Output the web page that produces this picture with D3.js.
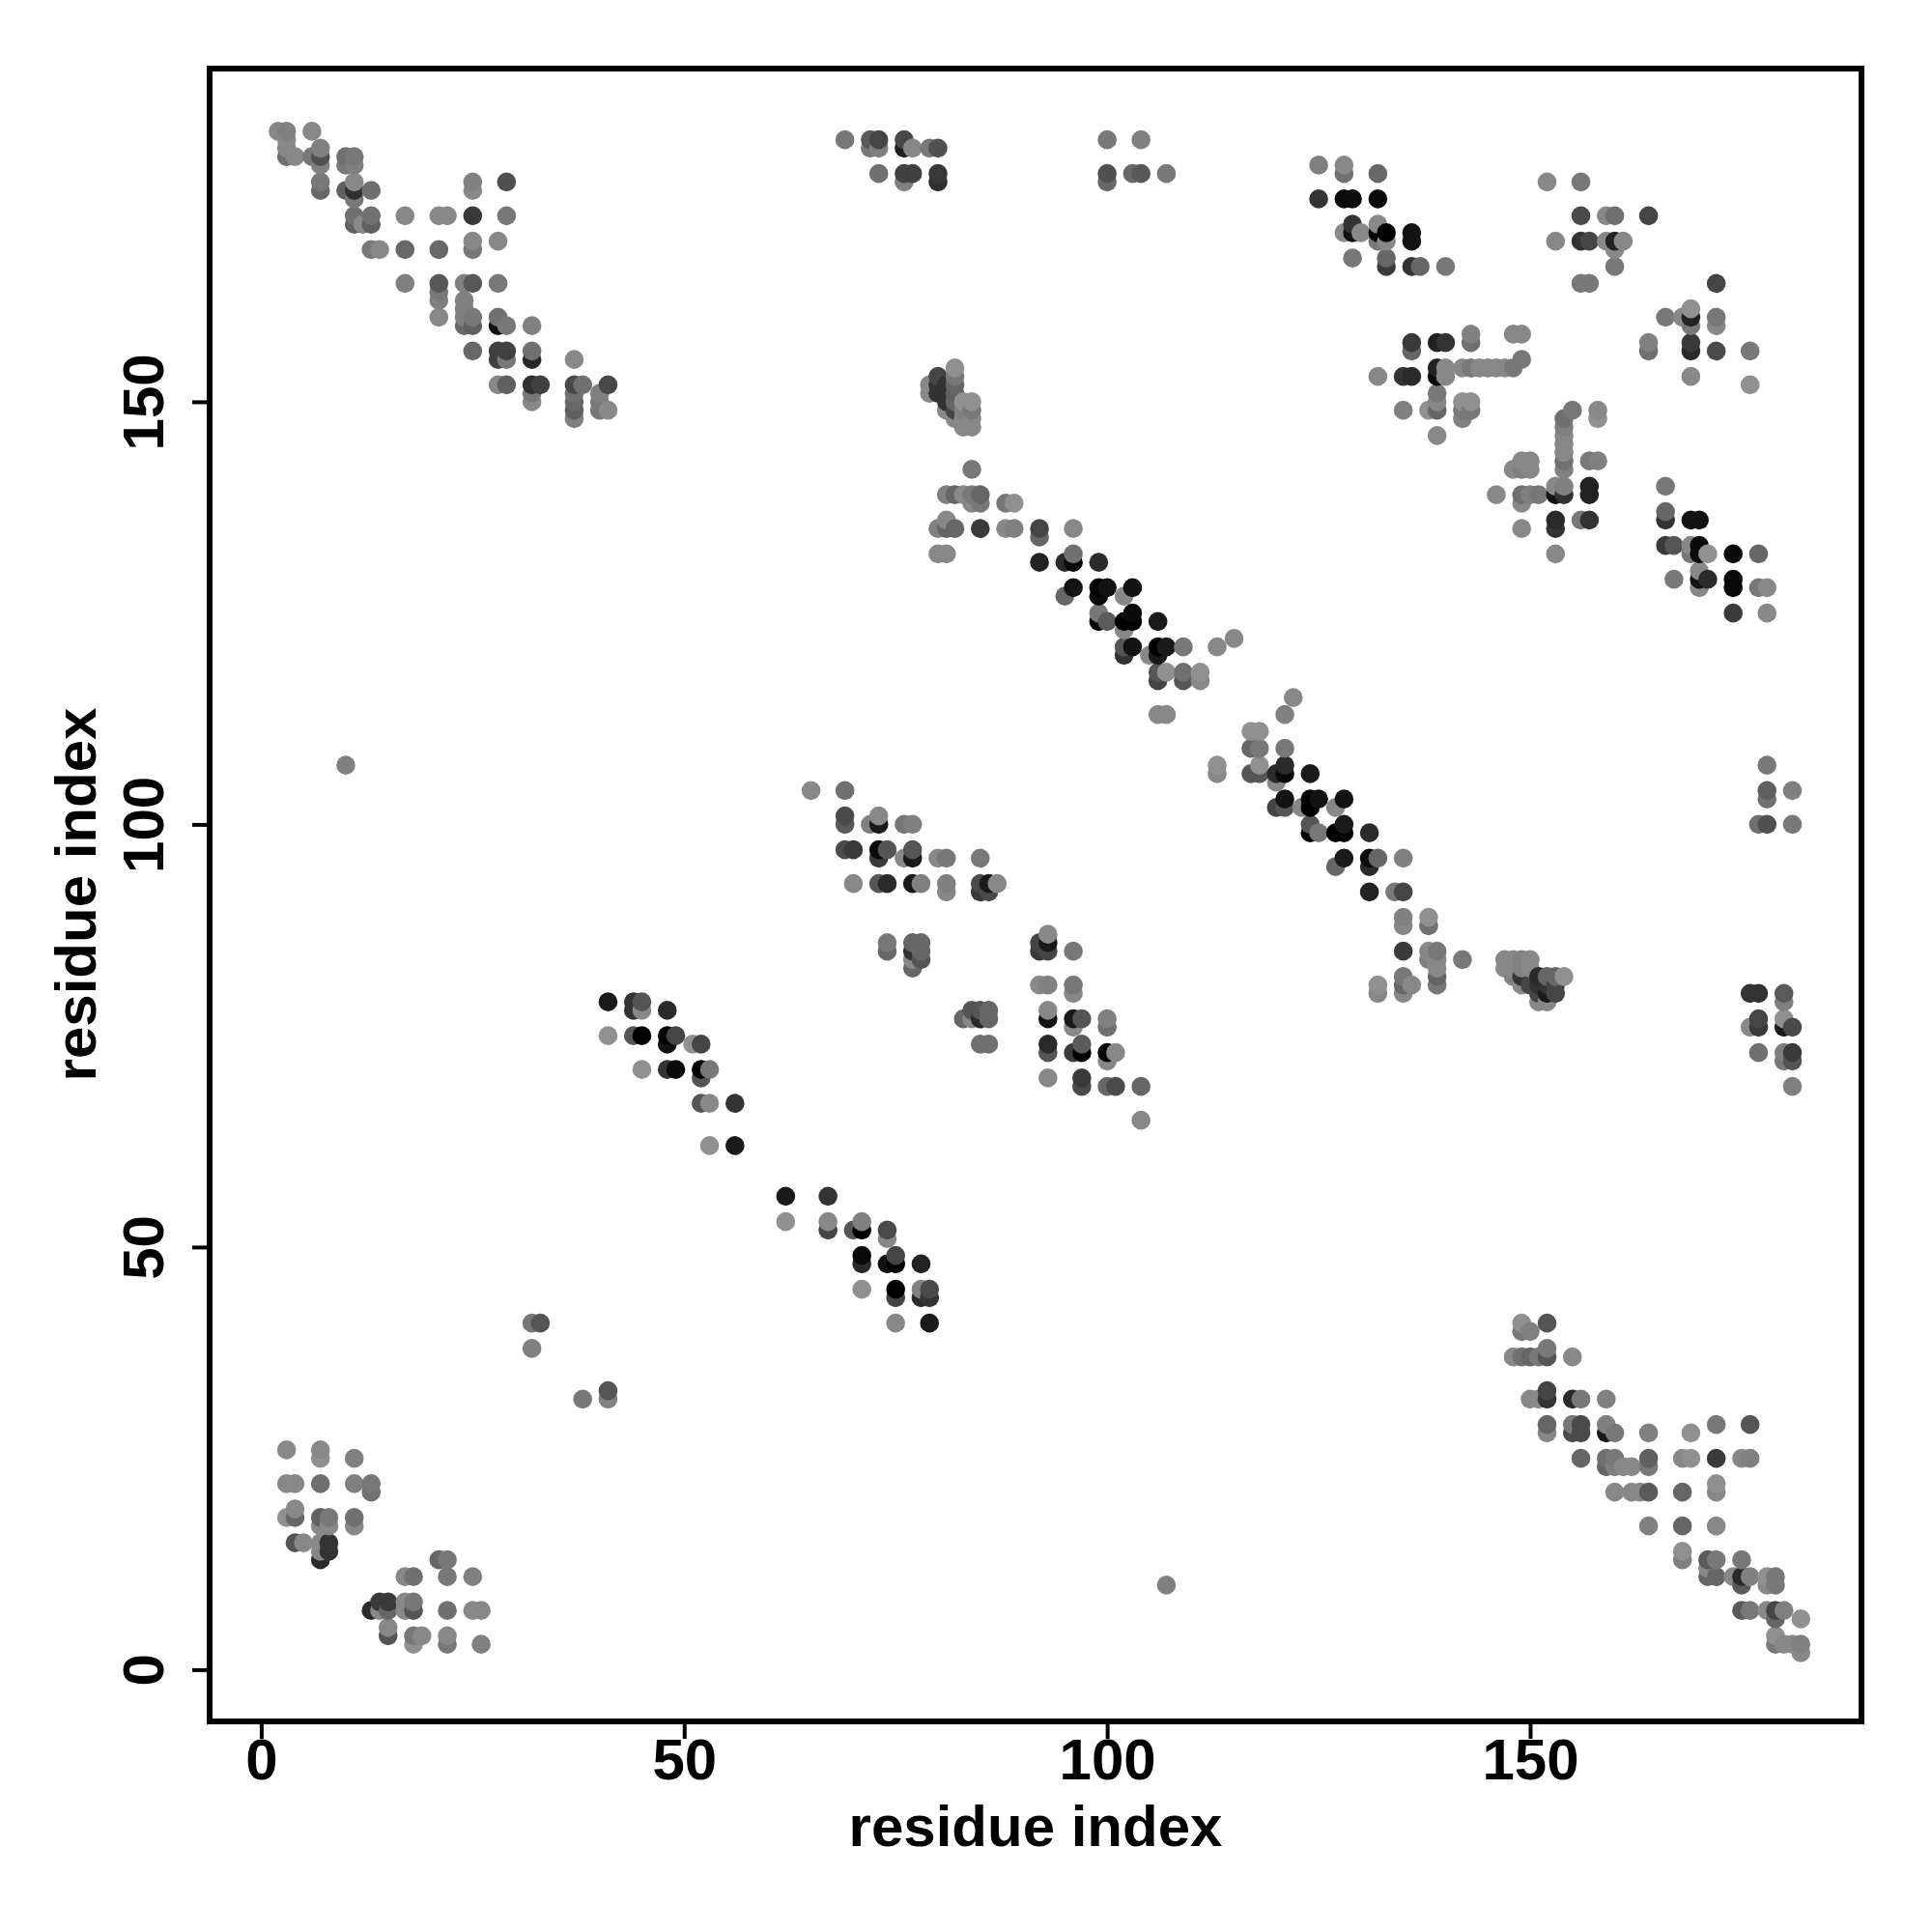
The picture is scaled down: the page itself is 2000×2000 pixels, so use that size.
<!DOCTYPE html>
<html><head><meta charset="utf-8">
<script src="https://cdn.jsdelivr.net/npm/d3@7"></script>
<style>html,body{margin:0;background:#fff}svg{display:block}</style></head>
<body><svg id="c" width="2000" height="2000"></svg>
<script>
// each contact: [residue x, residue y, shade 0 (black) .. 9 (lightest grey)]
const blockNW=[[2,182,8.5],[3,182,8],[6,182,8.5],[3,181,8.5],[3,180,8.5],[7,180,8],[3,179,7],[4,179,8.5],[6,179,7.5],[7,179,5],[10,179,7],[11,179,7.5],[7,178,8],[10,178,7.5],[11,178,8],[7,176,7.5],[11,176,8.5],[25,176,8],[29,176,5],[7,175,6.5],[10,175,6],[11,175,3],[13,175,7],[25,175,8.5],[11,174,7.5],[11,172,7],[13,172,7],[17,172,8.5],[21,172,8.5],[22,172,8.5],[25,172,3.5],[29,172,7.5],[11,171,6],[12,171,8.5],[13,171,6],[25,169,8.5],[28,169,8.5],[13,168,7.5],[14,168,8.5],[17,168,6.5],[21,168,6.5],[25,168,7.5],[17,164,8],[21,164,5.5],[24,164,8],[25,164,5.5],[28,164,7.5],[21,163,7.5],[21,162,8],[24,162,8],[24,161,8],[21,160,8.5],[24,160,8],[25,160,7.5],[28,160,7],[24,159,6.5],[25,159,6],[28,159,1],[29,159,7.5],[32,159,8],[25,156,6.5],[28,156,4],[29,156,4],[32,156,7],[28,155,4],[29,155,7.5],[32,155,2.5],[37,155,8.5],[28,152,8.5],[29,152,6],[32,152,3],[33,152,4],[37,152,4.5],[38,152,7],[41,152,4.5],[32,151,7.5],[37,151,7],[40,151,8],[32,150,8.5],[37,150,6.5],[40,150,7.5],[37,149,6],[40,149,7.5],[41,149,8.5],[37,148,8]];
const blockN=[[69,181,7.5],[72,181,5.5],[73,181,4.3],[76,181,4.5],[100,181,7.5],[104,181,8],[72,180,7.5],[73,180,8],[76,180,2],[77,180,8.5],[79,180,7.5],[80,180,5],[73,177,7],[76,177,4],[77,177,4],[80,177,3.5],[100,177,5],[103,177,6.5],[104,177,5.5],[107,177,7.5],[76,176,8],[80,176,3],[100,176,6.5]];
const blockNE=[[125,178,8],[128,178,8.5],[128,177,7],[132,177,6.5],[152,176,8.5],[156,176,7.5],[125,174,3.2],[128,174,.6],[129,174,.8],[132,174,.6],[156,172,4.6],[159,172,8.5],[160,172,7],[164,172,4.3],[129,171,3.2],[132,171,8.5],[128,170,8.5],[129,170,1.1],[130,170,8.5],[132,170,0],[133,170,0],[136,170,1.1],[132,169,7.5],[133,169,8.5],[136,169,1.1],[153,169,8.5],[156,169,3.2],[157,169,4.3],[159,169,8.5],[160,169,2.1],[161,169,8.5],[160,168,8.5],[129,167,7.5],[133,167,6.4],[133,166,3.6],[136,166,3.2],[137,166,6.4],[140,166,7.5],[160,166,7.5],[156,164,7.5],[157,164,7.5],[172,164,4.3],[169,161,9],[166,160,7.5],[168,160,8.5],[169,160,2.1],[172,160,7.5],[169,159,7.5],[172,159,8.5],[143,158,8],[148,158,8.5],[149,158,8.5],[136,157,3.6],[139,157,2.1],[140,157,3.2],[143,157,7],[164,157,8],[169,157,3.6],[136,156,6.4],[164,156,7],[169,156,2.6],[172,156,4.6],[176,156,7.5],[149,155,7.5],[139,154,2.1],[140,154,8.5],[142,154,8.5],[143,154,7.5],[144,154,8.5],[145,154,8.5],[146,154,8.5],[147,154,8.5],[148,154,7.5],[132,153,8.5],[135,153,3.2],[136,153,2.6],[139,153,.6],[140,153,8.5],[169,153,8.5],[176,152,9]];
const blockE=[[139,151,7.5],[139,150,8.5],[142,150,9],[143,150,9],[135,149,8],[138,149,9],[139,149,6.4],[142,149,7.5],[143,149,7.5],[155,149,7.5],[158,149,8.5],[142,148,8],[154,148,7],[158,148,9],[154,147,8],[139,146,8.5],[154,146,8.5],[154,145,8.5],[154,144,8.5],[149,143,8.5],[150,143,8.5],[154,143,7],[157,143,7.5],[158,143,8],[148,142,8.5],[149,142,8],[150,142,8.5],[154,142,8],[153,140,8.5],[154,140,8],[157,140,2.1],[166,140,7.5],[146,139,8.5],[149,139,7],[150,139,8],[151,139,7.5],[153,139,1.1],[154,139,3.2],[157,139,2.1],[149,138,8.5],[166,137,6.4],[153,136,2.6],[156,136,7.5],[157,136,3.2],[166,136,3.2],[169,136,1.1],[170,136,1.1],[149,135,8.5],[153,135,3.2],[166,133,3.6],[167,133,5.3],[169,133,8.5],[170,133,.6],[153,132,8.5],[169,132,7.5],[170,132,.6],[171,132,9],[174,132,.6],[177,132,6.4],[170,130,8.5],[167,129,7.5],[170,129,1.1],[171,129,2.6],[174,129,.6],[170,128,8.5],[174,128,.6],[177,128,7.5],[178,128,8.5],[174,125,3.6],[178,125,8.5]];
const blockC=[[79,152,8.5],[79,151,8.5],[80,153,4.3],[80,152,3.2],[80,151,3.2],[81,152,3.2],[81,151,3.2],[81,150,3.2],[81,149,8.5],[82,154,9],[82,153,7.5],[82,152,6.4],[82,151,6],[82,150,6.4],[82,149,4.3],[82,148,8.5],[83,150,9],[83,149,8],[83,148,8.5],[83,147,8.5],[84,150,9],[84,149,7.5],[84,148,8.5],[84,147,8.5],[84,142,7.5],[81,139,8],[82,139,6.4],[83,139,8.5],[84,139,7.5],[85,139,6.4],[84,138,8.5],[85,138,7.5],[88,138,7.5],[89,138,9],[81,136,8.5],[80,135,8],[81,135,6.4],[82,135,6.4],[85,135,3.6],[88,135,8.5],[89,135,8],[92,135,4.3],[96,135,8.5],[92,134,6.4],[80,132,8.5],[81,132,8.5],[96,132,7],[92,131,2.1],[95,131,2.6],[96,131,.6],[99,131,2.6],[96,128,1.1],[99,128,0],[100,128,1.1],[103,128,1.1],[95,127,6.4],[99,127,.6],[102,127,8.5],[99,125,7.5],[103,125,.6],[99,124,.6],[100,124,5.6],[102,124,0],[103,124,0],[106,124,1.6],[102,123,8.5],[115,122,8.5],[102,121,5.3],[103,121,1.1],[106,121,0],[107,121,1.6],[109,121,7.5],[113,121,8.5],[102,120,3.2],[105,120,8.5],[106,120,1.6],[106,118,5.3],[107,118,9],[109,118,7],[111,118,9],[106,117,4.3],[109,117,5.3],[111,117,8.5],[106,113,8.5],[107,113,8.5]];
const blockD=[[122,115,8.5],[121,113,8],[117,111,9],[118,111,9],[117,109,6.4],[118,109,7.5],[121,109,7.5],[113,107,9],[118,107,9],[121,107,2.6],[113,106,8.5],[117,106,5.3],[118,106,5.3],[120,106,2.6],[121,106,.6],[124,106,1.6],[120,105,8.5],[121,103,1.1],[124,103,0],[125,103,1.1],[128,103,1.1],[120,102,4.3],[121,102,5.3],[123,102,8.5],[124,102,0],[127,102,8.5],[124,100,5.3],[128,100,1.6],[124,99,0],[125,99,7.5],[127,99,0],[128,99,0],[131,99,2.6],[128,96,1.6],[131,96,.6],[132,96,6.4],[135,96,8],[127,95,6.4],[131,95,2.6],[131,92,2.1],[134,92,7.5],[135,92,4.3],[135,89,8],[138,89,9],[135,88,8.5],[138,88,7],[135,85,3.6],[138,85,8.5],[139,85,7.5],[138,84,8],[139,84,8.5],[142,84,7.5],[139,83,8.5],[135,82,7.5],[139,82,6.4],[132,81,9],[135,81,6.4],[136,81,8.5],[139,81,7.5],[132,80,8.5],[135,80,8.5]];
const blockK=[[147,84,8.5],[148,84,8.5],[149,84,8],[150,84,8.5],[147,83,8.5],[148,83,8.5],[149,83,8],[150,83,8.5],[148,82,8],[149,82,3.2],[151,82,2.6],[152,82,6.4],[153,82,6.4],[154,82,9],[149,81,8.5],[150,81,4.3],[151,81,3.2],[152,81,3.2],[153,81,4.3],[151,80,4.3],[152,80,1.6],[153,80,4.3],[151,79,8.5],[152,79,8.5]];
const blockSE=[[178,107,7.5],[178,104,6],[181,104,8],[178,103,7],[177,100,7],[178,100,5],[181,100,7.5],[176,80,3.2],[177,80,3.2],[180,80,5.6],[180,79,8],[177,77,4.3],[180,77,9],[176,76,8.5],[177,76,3.6],[180,76,1.6],[181,76,4.6],[177,73,7],[180,73,8],[181,73,3.6],[180,72,7.5],[181,72,5.3],[181,69,8]];
const blockM=[[65,104,8.5],[69,104,7],[69,101,4.6],[73,101,8.5],[69,100,5.6],[72,100,8],[73,100,1.6],[76,100,7.5],[77,100,8],[69,97,4.6],[70,97,3.6],[73,97,.6],[74,97,5.3],[77,97,5.3],[73,96,3.6],[76,96,8.5],[77,96,1.6],[80,96,8.5],[81,96,7.5],[85,96,7.5],[70,93,8.5],[73,93,5.3],[74,93,2.6],[77,93,1.6],[78,93,8],[81,93,8],[85,93,4.6],[86,93,1.6],[87,93,8.5],[81,92,8.5],[85,92,3.6],[86,92,4.6],[93,87,8.5],[74,86,7.5],[77,86,6.4],[78,86,6.4],[92,86,4.3],[93,86,1.6],[74,85,6.5],[77,85,3.2],[78,85,6.4],[92,85,3.6],[93,85,4.3],[96,85,7.5],[77,84,8.5],[78,84,5.3],[77,83,6.4],[92,81,8.5],[93,81,8],[96,81,7.5],[96,80,8.5],[84,78,5.3],[85,78,5.3],[86,78,6.4],[93,78,8.5],[83,77,6.4],[84,77,8.5],[85,77,2.6],[86,77,6.4],[93,77,1.1],[96,77,1.6],[97,77,5.3],[100,77,8],[96,76,8.5],[100,76,7],[85,74,7],[86,74,7],[93,74,2.6],[97,74,5.6],[93,73,5.3],[96,73,3.6],[97,73,0],[100,73,0],[101,73,8.5],[100,72,8.5],[93,70,8.5],[97,70,3.6],[97,69,4.6],[100,69,6.4],[101,69,4.6],[104,69,6.4],[104,65,8.5]];
const blockS=[[41,79,1.6],[44,79,3.2],[45,79,5.3],[44,78,3.2],[45,78,8.5],[48,78,2.6],[41,75,9],[44,75,5.3],[45,75,0],[48,75,0],[49,75,4.3],[48,74,1.1],[51,74,9],[52,74,4.3],[45,71,9],[48,71,3.2],[49,71,.6],[52,71,0],[53,71,7.5],[52,70,5.3],[52,67,5.3],[53,67,8.5],[56,67,3.2],[53,62,9],[56,62,1.6],[62,56,1.6],[67,56,3.2],[62,53,9],[67,53,8.5],[71,53,8],[67,52,4.3],[70,52,5.3],[71,52,0],[74,52,4.6],[74,51,8.5],[71,49,.6],[75,49,4.3],[71,48,2.6],[74,48,1.1],[75,48,0],[78,48,2.1],[71,45,9],[75,45,0],[78,45,8],[79,45,4.6],[75,44,4.3],[78,44,2.6],[79,44,3.2],[75,41,8.5],[79,41,1.6]];
const blockLone=[[10,107,8],[32,41,7.5],[33,41,5.3],[32,38,8],[38,32,7.5],[41,33,5.3],[41,32,8],[107,10,8]];
const blockSEdiag=[[149,41,9],[152,41,5.3],[149,40,7.5],[150,40,8],[152,38,7.5],[148,37,8.5],[149,37,7],[150,37,6.4],[151,37,7.5],[152,37,5.3],[155,37,8.5],[152,33,4.3],[150,32,8.5],[151,32,8.5],[152,32,3.2],[155,32,2.6],[156,32,7.5],[159,32,8],[152,29,6.4],[155,29,7.5],[156,29,4.6],[159,29,8],[172,29,7.5],[176,29,5.3],[152,28,8.5],[155,28,4.6],[156,28,4.6],[159,28,1.6],[160,28,7.5],[164,28,8],[169,28,9],[156,25,6.4],[159,25,7],[160,25,7.5],[164,25,6],[168,25,8.5],[169,25,9],[172,25,3.6],[175,25,8.5],[176,25,8],[159,24,6.4],[160,24,8],[161,24,8.5],[162,24,8.5],[164,24,7.5],[172,22,9],[160,21,8.5],[162,21,8.5],[163,21,8.5],[164,21,5.6],[168,21,6.4],[172,21,8.5],[164,17,8],[168,17,6.4],[172,17,8.5],[168,14,9],[168,13,8],[171,13,5.6],[172,13,7.5],[175,13,7.5],[171,12,8.5],[171,11,6.4],[172,11,6.4],[174,11,8.5],[175,11,2.6],[176,11,8],[178,11,9],[179,11,7.5],[175,10,5.6],[178,10,8.5],[179,10,7.5],[175,7,5.6],[176,7,7.5],[178,7,8.5],[179,7,4.3],[180,7,8],[179,6,6.4],[182,6,9],[179,4,9],[179,3,7.5],[180,3,8.5],[181,3,8.5],[182,3,8],[182,2,8.5]];
const blockSW=[[3,26,8.5],[7,26,8.5],[7,25,9],[11,25,8],[3,22,8.5],[4,22,8.5],[7,22,7],[11,22,8],[13,22,7.5],[13,21,7],[4,19,8.5],[3,18,9],[4,18,6.4],[7,18,6],[8,18,7.5],[11,18,7],[7,17,8.5],[8,17,8.5],[11,17,8.5],[4,15,5.3],[5,15,8.5],[7,15,8.5],[8,15,3.2],[7,14,8.5],[8,14,3.2],[7,13,2.6],[21,13,6.4],[22,13,7.5],[17,11,8.5],[18,11,7],[22,11,7.5],[25,11,8],[14,8,3.6],[15,8,3.6],[17,8,8.5],[18,8,7.5],[13,7,2.6],[14,7,8.5],[15,7,6.4],[17,7,8.5],[18,7,5.3],[22,7,7],[25,7,8.5],[26,7,8.5],[15,5,8.5],[15,4,5.3],[18,4,7.5],[19,4,8.5],[22,4,8.5],[18,3,9],[22,3,7.5],[26,3,8]];
const tickValues=[0,50,100,150];
const axisTitle="residue index";

const contacts=[].concat(blockNW,blockN,blockNE,blockE,blockC,blockD,blockK,blockSE,blockM,blockS,blockLone,blockSEdiag,blockSW)
  .sort((a,b)=>a[0]-b[0]||a[1]-b[1]);

const svg=d3.select("#c");
const frame={l:217,r:1927,t:71,b:1782};
const x=d3.scaleLinear([0,150],[270.4,1584]);
const y=d3.scaleLinear([0,150],[1728.4,415.9]);
const shade=d3.scaleLinear([0,9],["#000000","#909090"]);

svg.append("g").selectAll("circle").data(contacts).join("circle")
  .attr("cx",d=>x(d[0])).attr("cy",d=>y(d[1])).attr("r",9.8).attr("fill",d=>shade(d[2]));

svg.append("rect").attr("x",frame.l).attr("y",frame.t)
  .attr("width",frame.r-frame.l).attr("height",frame.b-frame.t)
  .attr("fill","none").attr("stroke","#000").attr("stroke-width",6);

const font="'Liberation Sans',Arial,sans-serif";
const gx=svg.append("g").attr("transform",`translate(0,${frame.b})`)
  .call(d3.axisBottom(x).tickValues(tickValues).tickSize(18).tickFormat(d3.format("d")));
const gy=svg.append("g").attr("transform",`translate(${frame.l},0)`)
  .call(d3.axisLeft(y).tickValues(tickValues).tickSize(18).tickFormat(d3.format("d")));
[gx,gy].forEach(g=>{
  g.select(".domain").remove();
  g.selectAll("line").attr("stroke","#000").attr("stroke-width",4);
  g.selectAll("text").attr("font-family",font).attr("font-weight","bold").attr("font-size",60).attr("fill","#000");
});
gx.selectAll("text").attr("dy",null).attr("y",60);
gy.selectAll("text").attr("x",null).attr("dy",null)
  .attr("text-anchor","middle").attr("transform","translate(-48,0) rotate(-90)");

svg.append("text").text(axisTitle).attr("x",1072).attr("y",1911).attr("text-anchor","middle")
  .attr("font-family",font).attr("font-weight","bold").attr("font-size",60);
svg.append("text").text(axisTitle).attr("transform","translate(99,926) rotate(-90)").attr("text-anchor","middle")
  .attr("font-family",font).attr("font-weight","bold").attr("font-size",60);
</script></body></html>
